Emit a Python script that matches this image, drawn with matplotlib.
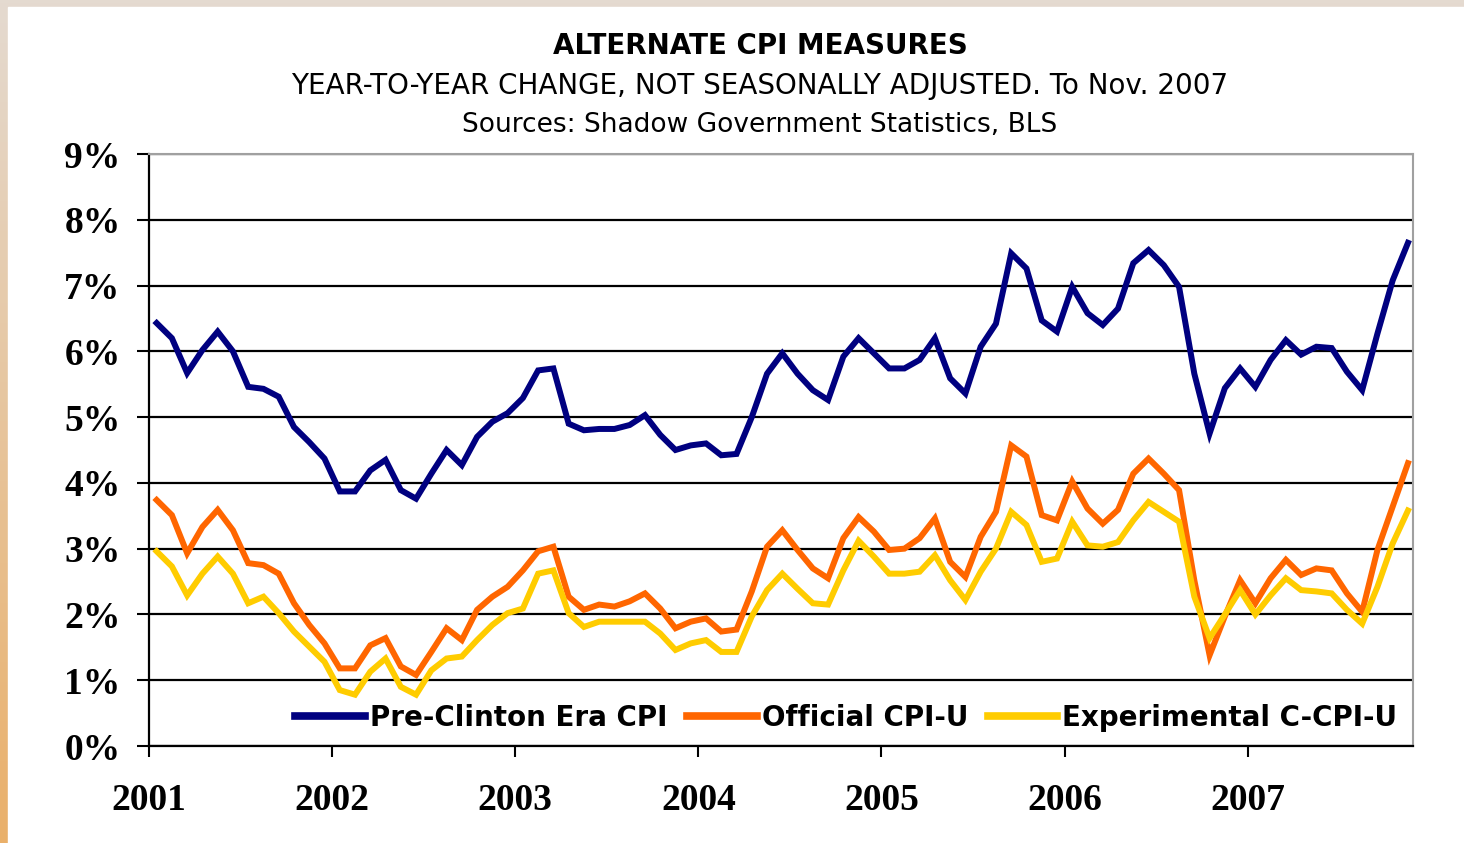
import numpy as np
import matplotlib
matplotlib.use("Agg")
import matplotlib.pyplot as plt
from matplotlib.patches import Rectangle

# monthly year-over-year change, Jan 2001 .. Nov 2007 (percent)
pre_clinton = [6.43, 6.20, 5.67, 6.02, 6.30, 6.00, 5.46, 5.43, 5.31, 4.85, 4.62, 4.37,
               3.87, 3.87, 4.19, 4.35, 3.89, 3.76, 4.14, 4.50, 4.27, 4.70, 4.93, 5.06,
               5.29, 5.71, 5.74, 4.90, 4.80, 4.82, 4.82, 4.88, 5.03, 4.73, 4.50, 4.57,
               4.60, 4.42, 4.44, 5.00, 5.66, 5.97, 5.66, 5.41, 5.26, 5.92, 6.20, 5.97,
               5.74, 5.74, 5.87, 6.20, 5.59, 5.36, 6.07, 6.42, 7.49, 7.26, 6.47, 6.30,
               6.98, 6.58, 6.40, 6.65, 7.34, 7.54, 7.31, 6.98, 5.66, 4.75, 5.44, 5.74,
               5.46, 5.87, 6.17, 5.95, 6.07, 6.05, 5.69, 5.41, 6.27, 7.08, 7.65]
official = [3.74, 3.51, 2.93, 3.33, 3.59, 3.28, 2.78, 2.75, 2.62, 2.17, 1.84, 1.56,
            1.18, 1.18, 1.53, 1.64, 1.21, 1.08, 1.43, 1.79, 1.61, 2.07, 2.27, 2.42,
            2.67, 2.96, 3.03, 2.27, 2.07, 2.15, 2.12, 2.20, 2.32, 2.09, 1.79, 1.89,
            1.94, 1.74, 1.77, 2.35, 3.03, 3.28, 2.98, 2.70, 2.55, 3.16, 3.48, 3.26,
            2.98, 3.00, 3.16, 3.46, 2.80, 2.57, 3.18, 3.56, 4.57, 4.40, 3.51, 3.43,
            4.02, 3.61, 3.38, 3.59, 4.14, 4.37, 4.14, 3.89, 2.52, 1.38, 1.97, 2.52,
            2.17, 2.55, 2.83, 2.60, 2.70, 2.67, 2.32, 2.04, 2.98, 3.64, 4.30]
chained = [2.96, 2.73, 2.29, 2.62, 2.88, 2.62, 2.17, 2.27, 2.02, 1.74, 1.51, 1.28,
           0.85, 0.78, 1.13, 1.33, 0.90, 0.78, 1.15, 1.33, 1.36, 1.61, 1.84, 2.02,
           2.09, 2.62, 2.67, 2.02, 1.81, 1.89, 1.89, 1.89, 1.89, 1.71, 1.46, 1.56,
           1.61, 1.43, 1.43, 1.97, 2.37, 2.62, 2.39, 2.17, 2.15, 2.67, 3.12, 2.88,
           2.62, 2.62, 2.65, 2.90, 2.52, 2.22, 2.65, 3.00, 3.56, 3.36, 2.80, 2.85,
           3.41, 3.05, 3.03, 3.10, 3.43, 3.71, 3.56, 3.41, 2.27, 1.64, 2.00, 2.37,
           2.00, 2.29, 2.55, 2.37, 2.35, 2.32, 2.07, 1.86, 2.42, 3.08, 3.58]
years = ["2001", "2002", "2003", "2004", "2005", "2006", "2007"]
series_names = ["Pre-Clinton Era CPI", "Official CPI-U", "Experimental C-CPI-U"]
colors = ["#000080", "#FF6600", "#FFCC00"]

W, H = 1464, 843
fig = plt.figure(figsize=(W / 100, H / 100), dpi=100)

# background: beige/orange gradient border with a white panel
bg = fig.add_axes([0, 0, 1, 1], zorder=-10)
grad = np.linspace(0, 1, 256).reshape(-1, 1)
top_c = np.array([228, 218, 208]) / 255
bot_c = np.array([234, 176, 106]) / 255
img = top_c + (bot_c - top_c) * grad[:, :, None]
bg.imshow(img, aspect="auto", extent=[0, 1, 0, 1], origin="upper")
bg.add_patch(Rectangle((8 / W, 0), 1, 1 - 7 / H, color="white"))
bg.set_xlim(0, 1)
bg.set_ylim(0, 1)
bg.axis("off")

ax = fig.add_axes([149 / W, (H - 746) / H, (1413 - 149) / W, (746 - 154) / H])
ax.set_facecolor("white")

x = np.arange(len(pre_clinton))
for vals, name, c in zip([pre_clinton, official, chained], series_names, colors):
    ax.plot(x, vals, color=c, lw=4.3, label=name, zorder=3, solid_joinstyle="miter")

ax.set_xlim(-0.5, 82.33)
ax.set_ylim(0, 9)
ax.set_yticks(range(10))
ax.set_yticklabels([f"{v}%" for v in range(10)])
ax.set_xticks([-0.5 + 12 * k for k in range(len(years))])
ax.set_xticklabels(years)

for lab in ax.get_yticklabels() + ax.get_xticklabels():
    lab.set_fontfamily("Liberation Serif")
    lab.set_fontweight("bold")
    lab.set_fontsize(27)
ax.tick_params(axis="y", length=8.5, width=1.5, pad=12)
ax.tick_params(axis="x", length=8, width=1.5, pad=19)

ax.set_axisbelow(True)
ax.yaxis.grid(True, color="black", lw=1.6)
ax.spines["left"].set_linewidth(1.6)
ax.spines["bottom"].set_linewidth(1.6)
for s in ["top", "right"]:
    ax.spines[s].set_color("#a0a0a0")
    ax.spines[s].set_linewidth(1.5)

leg = ax.legend(loc="lower right", bbox_to_anchor=(0.992, 0.014), ncol=3,
                frameon=True, fancybox=False, handlelength=2.5, handletextpad=0.18,
                columnspacing=0.72, borderpad=0.2, borderaxespad=0,
                prop={"family": "DejaVu Sans", "weight": "bold", "size": 20})
leg.get_frame().set_facecolor("white")
leg.get_frame().set_edgecolor("white")
leg.get_frame().set_alpha(1)
leg.set_zorder(2)
for h in leg.get_lines():
    h.set_linewidth(5.5)

fig.text(760 / W, 1 - 46 / H, "ALTERNATE CPI MEASURES", ha="center", va="center",
         fontsize=20, fontweight="bold", family="DejaVu Sans")
fig.text(760 / W, 1 - 86 / H, "YEAR-TO-YEAR CHANGE, NOT SEASONALLY ADJUSTED. To Nov. 2007",
         ha="center", va="center", fontsize=20, family="DejaVu Sans")
fig.text(760 / W, 1 - 125 / H, "Sources: Shadow Government Statistics, BLS",
         ha="center", va="center", fontsize=19, family="DejaVu Sans")

fig.savefig("out.png", dpi=100)
